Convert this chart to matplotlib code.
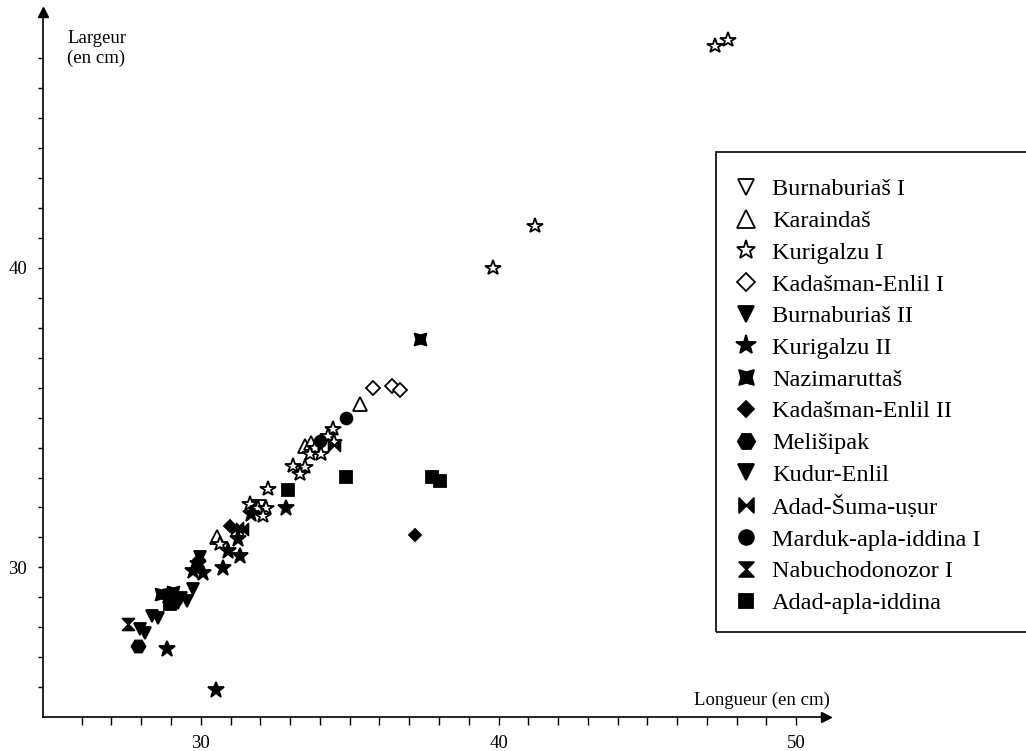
import matplotlib
matplotlib.use("Agg")
import matplotlib.pyplot as plt
from matplotlib.path import Path
from matplotlib.patches import Rectangle

plt.rcParams['font.family'] = ['Liberation Serif', 'DejaVu Serif']

# longueur / largeur (cm) par règne
burnaburias1_x = [31.95]
burnaburias1_y = [32.0]
karaindas_x = [35.34, 33.49, 33.71, 30.53]
karaindas_y = [35.47, 34.04, 34.16, 31.02]
kurigalzu1_x = [47.28, 47.72, 41.24, 39.80, 34.44, 34.27, 34.46, 33.83, 33.66, 34.05,
                33.10, 33.49, 33.32, 32.26, 31.64, 31.92, 32.18, 32.09, 30.64]
kurigalzu1_y = [47.43, 47.63, 41.40, 40.00, 34.62, 34.38, 34.18, 34.00, 33.77, 33.77,
                33.38, 33.36, 33.13, 32.60, 32.13, 31.99, 31.99, 31.73, 30.77]
kadasman1_x = [35.78, 36.43, 36.68]
kadasman1_y = [35.99, 36.07, 35.91]
burnaburias2_x = [29.24, 29.35, 29.52, 29.74, 29.97]
burnaburias2_y = [28.82, 28.99, 28.88, 29.27, 30.33]
kurigalzu2_x = [30.50, 28.85, 32.85, 31.68, 31.25, 30.92, 31.31, 30.75, 29.74, 30.08, 29.91, 28.90]
kurigalzu2_y = [25.91, 27.27, 31.99, 31.77, 30.93, 30.54, 30.38, 29.99, 29.88, 29.82, 30.10, 29.04]
nazimaruttas_x = [37.37, 28.68, 29.07]
nazimaruttas_y = [37.62, 29.10, 29.16]
kadasman2_x = [37.18, 30.97, 29.94]
kadasman2_y = [31.07, 31.38, 30.24]
melisipak_x = [27.90]
melisipak_y = [27.38]
kudur_x = [27.95, 28.12, 28.35, 28.57]
kudur_y = [27.93, 27.82, 28.38, 28.32]
adadsuma_x = [34.46, 31.20, 31.37]
adadsuma_y = [34.10, 31.32, 31.27]
marduk_x = [34.89, 33.99]
marduk_y = [34.99, 34.21]
nabu_x = [27.56]
nabu_y = [28.10]
adadapla_x = [32.93, 34.89, 37.75, 38.02, 28.96]
adadapla_y = [32.57, 33.01, 33.03, 32.87, 28.77]

# marqueurs particuliers
concave = Path([(-1, -1), (0, -0.72), (1, -1), (0.72, 0), (1, 1), (0, 0.72),
                (-1, 1), (-0.72, 0), (-1, -1)], closed=True)
bowtie = Path([(-1, -1), (0, 0), (1, -1), (1, 1), (0, 0), (-1, 1), (-1, -1)], closed=True)
hourglass = Path([(-1, 1), (1, 1), (0, 0), (1, -1), (-1, -1), (0, 0), (-1, 1)], closed=True)

series = [
    ("Burnaburiaš I", burnaburias1_x, burnaburias1_y, 'v', False, 9.5),
    ("Karaindaš", karaindas_x, karaindas_y, '^', False, 10),
    ("Kurigalzu I", kurigalzu1_x, kurigalzu1_y, '*', False, 11.5),
    ("Kadašman-Enlil I", kadasman1_x, kadasman1_y, 'D', False, 7.5),
    ("Burnaburiaš II", burnaburias2_x, burnaburias2_y, 'v', True, 9),
    ("Kurigalzu II", kurigalzu2_x, kurigalzu2_y, '*', True, 12),
    ("Nazimaruttaš", nazimaruttas_x, nazimaruttas_y, concave, True, 8.5),
    ("Kadašman-Enlil II", kadasman2_x, kadasman2_y, 'D', True, 6.5),
    ("Melišipak", melisipak_x, melisipak_y, 'H', True, 10),
    ("Kudur-Enlil", kudur_x, kudur_y, 'v', True, 9),
    ("Adad-Šuma-uṣur", adadsuma_x, adadsuma_y, bowtie, True, 8.5),
    ("Marduk-apla-iddina I", marduk_x, marduk_y, 'o', True, 8.5),
    ("Nabuchodonozor I", nabu_x, nabu_y, hourglass, True, 8.5),
    ("Adad-apla-iddina", adadapla_x, adadapla_y, 's', True, 8),
]

fig = plt.figure(figsize=(10.26, 7.51), dpi=100)
ax = fig.add_axes([43 / 1026, 34 / 751, 783 / 1026, 705 / 751])

for name, xs, ys, m, filled, ms in series:
    ax.plot(xs, ys, linestyle='none', marker=m, markersize=ms,
            markerfacecolor='black' if filled else 'white',
            markeredgecolor='black', markeredgewidth=1.3, label=name, clip_on=False)

ax.set_xlim(24.7, 51.0)
ax.set_ylim(25.0, 48.55)
for s in ['top', 'right']:
    ax.spines[s].set_visible(False)
for s in ['left', 'bottom']:
    ax.spines[s].set_linewidth(1.2)

ax.plot(1, 0, '>k', markersize=7, transform=ax.transAxes, clip_on=False)
ax.plot(0, 1, '^k', markersize=7, transform=ax.transAxes, clip_on=False)

ax.set_xticks([30, 40, 50])
ax.set_xticks(range(26, 51), minor=True)
ax.set_yticks([30, 40])
ax.set_yticks(range(26, 48), minor=True)
ax.tick_params(axis='x', which='both', direction='out', length=6, width=1, pad=7, labelsize=13.5)
ax.tick_params(axis='y', which='both', direction='out', length=3.5, width=1, pad=8, labelsize=13.5)

fig.text(67 / 1026, 1 - 30 / 751, "Largeur\n(en cm)", ha='left', va='top',
         fontsize=13.5, linespacing=1.2)
fig.text(830 / 1026, 1 - 705 / 751, "Longueur (en cm)", ha='right', va='baseline',
         fontsize=13.5)

# cadre de la légende, coupé par le bord droit comme dans l'original
fig.patches.append(Rectangle((716 / 1026, 1 - 632 / 751), 360 / 1026, 480 / 751,
                             transform=fig.transFigure, fill=False,
                             edgecolor='black', linewidth=1.2))

fig.legend(loc='upper left', bbox_to_anchor=(716 / 1026, 1 - 154 / 751),
           borderaxespad=0, frameon=False, fontsize=17.5,
           labelspacing=0.4, borderpad=1.0, handlelength=0.45,
           handletextpad=0.85, markerscale=1.25)

fig.savefig("out.png", dpi=100)
